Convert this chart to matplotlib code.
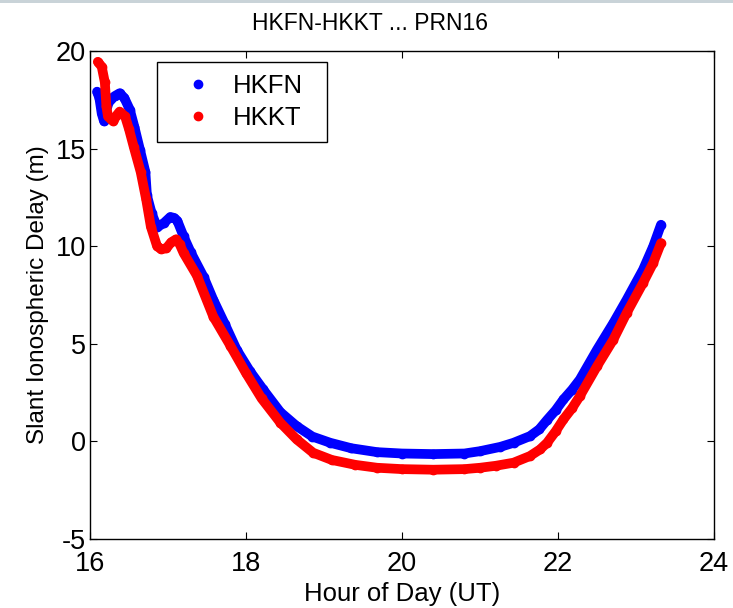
import numpy as np
import matplotlib
matplotlib.use('Agg')
import matplotlib.pyplot as plt
from matplotlib.patches import Rectangle

plt.rcParams['font.family'] = ['Liberation Sans', 'DejaVu Sans']
plt.rcParams['axes.unicode_minus'] = False

# HKFN (blue)
hkfn_hour = [16.09, 16.12, 16.15, 16.18, 16.22, 16.27, 16.32, 16.38, 16.44, 16.51,
             16.57, 16.64, 16.71, 16.73, 16.79, 16.86, 16.95, 17.03, 17.08, 17.12,
             17.20, 17.29, 17.46, 17.58, 17.73, 17.88, 18.05, 18.22, 18.44, 18.65,
             18.85, 19.08, 19.35, 19.68, 20.00, 20.40, 20.80, 21.00, 21.26, 21.43,
             21.64, 21.76, 21.86, 21.97, 22.07, 22.18, 22.28, 22.50, 22.71, 22.88,
             23.09, 23.22, 23.32]
hkfn_delay = [17.92, 17.60, 16.80, 16.40, 17.20, 17.55, 17.70, 17.84, 17.60, 17.00,
              16.10, 14.95, 13.80, 12.60, 11.70, 10.97, 11.20, 11.50, 11.45, 11.30,
              10.50, 9.70, 8.40, 7.26, 6.00, 4.70, 3.60, 2.66, 1.50, 0.78,
              0.25, -0.07, -0.35, -0.55, -0.62, -0.65, -0.62, -0.50, -0.28, -0.07,
              0.27, 0.62, 1.10, 1.60, 2.15, 2.65, 3.17, 4.70, 6.07, 7.26,
              8.80, 9.99, 11.10]

# HKKT (red)
hkkt_hour = [16.10, 16.15, 16.19, 16.21, 16.23, 16.27, 16.30, 16.34, 16.38, 16.45,
             16.50, 16.56, 16.65, 16.72, 16.78, 16.86, 16.91, 16.98, 17.04, 17.10,
             17.15, 17.20, 17.37, 17.58, 17.80, 18.00, 18.20, 18.44, 18.65, 18.86,
             19.10, 19.40, 19.68, 20.00, 20.40, 20.80, 21.00, 21.20, 21.43, 21.64,
             21.77, 21.86, 21.97, 22.07, 22.18, 22.28, 22.50, 22.71, 22.88, 23.09,
             23.22, 23.32]
hkkt_delay = [19.45, 19.20, 18.40, 17.16, 16.65, 16.50, 16.40, 16.70, 16.90, 16.65,
              16.00, 15.10, 13.80, 12.40, 11.00, 10.00, 9.85, 9.90, 10.20, 10.35,
              10.10, 9.65, 8.50, 6.40, 4.90, 3.50, 2.20, 0.96, 0.10, -0.58,
              -0.95, -1.20, -1.35, -1.42, -1.45, -1.42, -1.35, -1.25, -1.09, -0.75,
              -0.41, -0.07, 0.52, 1.13, 1.70, 2.32, 3.85, 5.22, 6.58, 8.12,
              9.14, 10.16]

blue = '#0000ff'
red = '#ff0000'

fig = plt.figure(figsize=(7.33, 6.08), dpi=100)
ax = fig.add_axes([0.1228, 0.1135, 0.8513, 0.8025])

# window frame strip at the top
fig.add_artist(Rectangle((0, 0.995), 1, 0.005, transform=fig.transFigure,
                         color='#c9d3d8', lw=0))

ax.plot(hkfn_hour, hkfn_delay, '-', color=blue, lw=7, solid_capstyle='round',
        solid_joinstyle='round')
ax.plot(hkfn_hour, hkfn_delay, 'o', color=blue, ms=6, label='HKFN')
ax.plot(hkkt_hour, hkkt_delay, '-', color=red, lw=7, solid_capstyle='round',
        solid_joinstyle='round')
ax.plot(hkkt_hour, hkkt_delay, 'o', color=red, ms=6, label='HKKT')

ax.set_xlim(16, 24)
ax.set_ylim(-5, 20)
ax.set_xticks(np.arange(16, 25, 2))
ax.set_yticks(np.arange(-5, 21, 5))
ax.tick_params(direction='in', top=True, right=True, labelsize=19.5, length=5)
ax.tick_params(axis='x', pad=9)
ax.tick_params(axis='y', pad=3)
for s in ax.spines.values():
    s.set_linewidth(1.0)

ax.set_xlabel('Hour of Day (UT)', fontsize=18.5, labelpad=3)
ax.set_ylabel('Slant Ionospheric Delay (m)', fontsize=17.5, labelpad=5)
ax.set_title('HKFN-HKKT ... PRN16', fontsize=16.5, pad=15, x=0.449)

leg = ax.legend(loc='upper left', bbox_to_anchor=(0.107, 0.777, 0.2724, 0.2),
                mode='expand', borderaxespad=0,
                fontsize=18.5, fancybox=False, framealpha=1, edgecolor='black',
                handletextpad=0.22, handlelength=2.29, markerscale=1.0,
                borderpad=0.45, labelspacing=0.33)
leg.get_frame().set_linewidth(1.0)

fig.savefig('out.png', dpi=100)
